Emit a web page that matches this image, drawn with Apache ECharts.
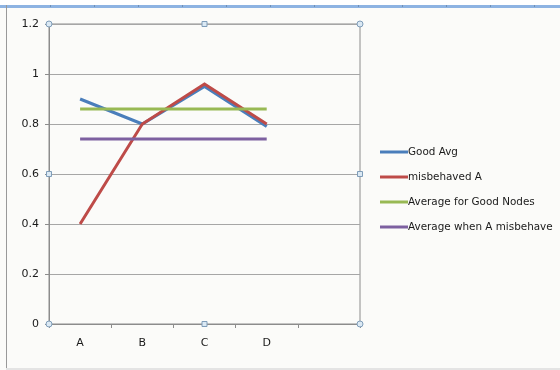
<!DOCTYPE html>
<html>
<head>
<meta charset="utf-8">
<script src="https://cdn.jsdelivr.net/npm/echarts@6/dist/echarts.min.js"></script>
<style>
  html, body { margin: 0; padding: 0; background: #ffffff; }
  #chart { width: 560px; height: 370px; }
</style>
</head>
<body>
<div id="chart"></div>
<script>
// Categories (the fifth slot is left blank on purpose)
const categories = ['A', 'B', 'C', 'D', ''];
const goodAvg = [0.90, 0.80, 0.95, 0.79];
const misbehavedA = [0.40, 0.80, 0.96, 0.80];
const avgGoodNodes = [0.86, 0.86, 0.86, 0.86];
const avgWhenAMisbehave = [0.74, 0.74, 0.74, 0.74];
const seriesNames = ['Good Avg', 'misbehaved A', 'Average for Good Nodes', 'Average when A misbehave'];
const seriesColors = ['#4a7ebb', '#be4b48', '#98b954', '#7d60a0'];
const yTicks = { min: 0, max: 1.2, step: 0.2 };

const chart = echarts.init(document.getElementById('chart'), null, { renderer: 'canvas' });

const font = 'DejaVu Sans';
const allData = [goodAvg, misbehavedA, avgGoodNodes, avgWhenAMisbehave];

// Selection handles around the plot frame
const L = 49, R = 360, T = 24, B = 324;
const handleStyle = { fill: '#dbe9f4', stroke: '#7f9db9', lineWidth: 1 };
const handles = [];
[[L, T], [R, T], [L, B], [R, B]].forEach(([x, y]) => {
  handles.push({ type: 'circle', shape: { cx: x, cy: y, r: 3 }, style: handleStyle, z: 100 });
});
[[(L + R) / 2, T], [(L + R) / 2, B], [L, (T + B) / 2], [R, (T + B) / 2]].forEach(([x, y]) => {
  handles.push({ type: 'rect', shape: { x: x - 2.5, y: y - 2.5, width: 5, height: 5 }, style: handleStyle, z: 100 });
});

// Window chrome: top ruler strip, left and bottom edges
const chrome = [
  { type: 'rect', shape: { x: 0, y: 7, width: 560, height: 363 }, style: { fill: '#fbfbf9' }, z: -10 },
  { type: 'rect', shape: { x: 0, y: 5, width: 560, height: 3 }, style: { fill: '#8db3e2' }, z: 50 },
  { type: 'rect', shape: { x: 6, y: 5, width: 1, height: 365 }, style: { fill: '#999999' }, z: 50 },
  { type: 'rect', shape: { x: 6, y: 368, width: 554, height: 2 }, style: { fill: '#e4e4e4' }, z: 50 }
];
for (let x = 50; x < 560; x += 44) {
  chrome.push({ type: 'rect', shape: { x: x, y: 5, width: 1, height: 2 }, style: { fill: '#6f8fb5' }, z: 51 });
}

chart.setOption({
  animation: false,
  backgroundColor: 'transparent',
  textStyle: { fontFamily: font },
  grid: {
    left: L, right: 560 - R, top: T, bottom: 370 - B,
    show: true, borderColor: '#8c8c8c', borderWidth: 1, backgroundColor: 'transparent'
  },
  legend: {
    orient: 'vertical',
    left: 375, top: 142,
    itemWidth: 28, itemHeight: 3, itemGap: 15,
    icon: 'rect',
    data: seriesNames,
    textStyle: { fontFamily: font, fontSize: 10.4, color: '#1a1a1a', padding: [0, 0, 0, -5] }
  },
  xAxis: {
    type: 'category',
    data: categories,
    boundaryGap: true,
    axisLine: { lineStyle: { color: '#8c8c8c', width: 1 } },
    axisTick: { show: true, length: 4, lineStyle: { color: '#8c8c8c' } },
    axisLabel: { fontFamily: font, fontSize: 11, color: '#1a1a1a', margin: 14 },
    splitLine: { show: false }
  },
  yAxis: {
    type: 'value',
    min: yTicks.min, max: yTicks.max, interval: yTicks.step,
    axisLine: { show: true, lineStyle: { color: '#8c8c8c', width: 1 } },
    axisTick: { show: true, length: 4, lineStyle: { color: '#8c8c8c' } },
    axisLabel: { fontFamily: font, fontSize: 11, color: '#1a1a1a', margin: 10,
      formatter: v => String(Math.round(v * 10) / 10) },
    splitLine: { show: true, lineStyle: { color: '#a6a6a6', width: 1 } }
  },
  series: seriesNames.map((name, i) => ({
    name: name,
    type: 'line',
    data: allData[i],
    symbol: 'none',
    color: seriesColors[i],
    lineStyle: { width: 3, color: seriesColors[i], join: 'miter' },
    z: 2 + i
  })),
  graphic: chrome.concat(handles)
});
</script>
</body>
</html>
